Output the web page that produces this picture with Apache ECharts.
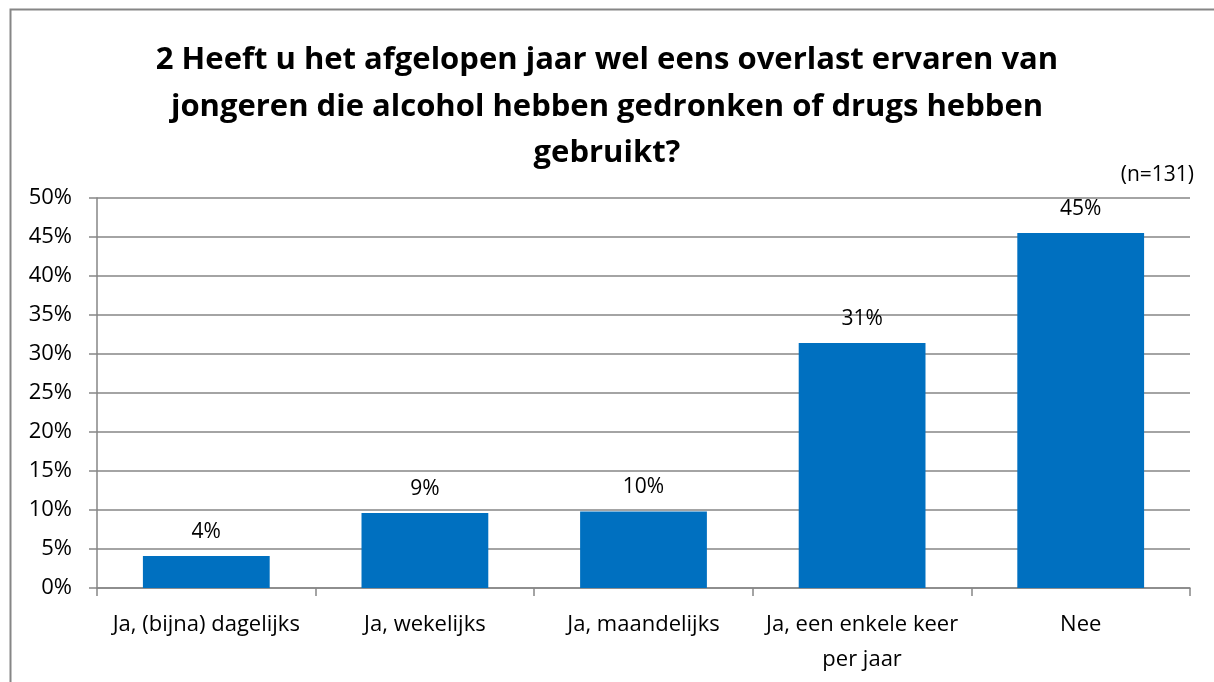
<!DOCTYPE html>
<html><head><meta charset="utf-8">
<script src="https://cdn.jsdelivr.net/npm/echarts@6/dist/echarts.min.js"></script>
<style>html,body{margin:0;padding:0;background:#fff}#c{width:1214px;height:682px}</style>
</head><body><div id="c"></div>
<script>
const categories = ['Ja, (bijna) dagelijks', 'Ja, wekelijks', 'Ja, maandelijks', 'Ja, een enkele keer\nper jaar', 'Nee'];
const values = [4.1, 9.6, 9.8, 31.4, 45.5];
const valueLabels = ['4%', '9%', '10%', '31%', '45%'];
const yTicks = [0, 5, 10, 15, 20, 25, 30, 35, 40, 45, 50];
const titleText = '2 Heeft u het afgelopen jaar wel eens overlast ervaren van\njongeren die alcohol hebben gedronken of drugs hebben\ngebruikt?';
const noteText = '(n=131)';

const FONT = 'Open Sans';
const chart = echarts.init(document.getElementById('c'), null, {renderer: 'canvas'});
chart.setOption({
  backgroundColor: '#fff',
  animation: false,
  graphic: [{
    type: 'rect', left: 8, top: 7, shape: {width: 1214, height: 700},
    style: {fill: 'none', stroke: '#868686', lineWidth: 2}, silent: true
  }],
  title: [{
    text: titleText, left: 'center', top: 32,
    textStyle: {fontFamily: FONT, fontWeight: 'bold', fontSize: 31, lineHeight: 46.5, color: '#000'}
  }, {
    text: noteText, right: 15, top: 160,
    textStyle: {fontFamily: FONT, fontWeight: 'normal', fontSize: 21, color: '#000'}
  }],
  grid: {left: 97, right: 24, top: 198, bottom: 94},
  xAxis: {
    type: 'category', data: categories,
    axisLine: {lineStyle: {color: '#868686', width: 1.5}},
    axisTick: {show: true, inside: false, length: 8, alignWithLabel: false, lineStyle: {color: '#868686', width: 1.5}},
    axisLabel: {fontFamily: FONT, fontSize: 22, color: '#000', margin: 19, lineHeight: 35, interval: 0}
  },
  yAxis: {
    type: 'value', min: yTicks[0], max: yTicks[yTicks.length - 1], interval: 5,
    axisLine: {show: true, lineStyle: {color: '#868686', width: 1.5}},
    axisTick: {show: true, length: 8, lineStyle: {color: '#868686', width: 1.5}},
    splitLine: {lineStyle: {color: '#868686', width: 1.5}},
    axisLabel: {fontFamily: FONT, fontSize: 22, color: '#000', margin: 25, formatter: v => v + '%'}
  },
  series: [{
    type: 'bar', data: values, barWidth: '58%',
    itemStyle: {color: '#0070C0'},
    label: {
      show: true, position: 'top', distance: 14,
      fontFamily: FONT, fontSize: 21, color: '#000',
      formatter: p => valueLabels[p.dataIndex]
    }
  }]
});
</script></body></html>
